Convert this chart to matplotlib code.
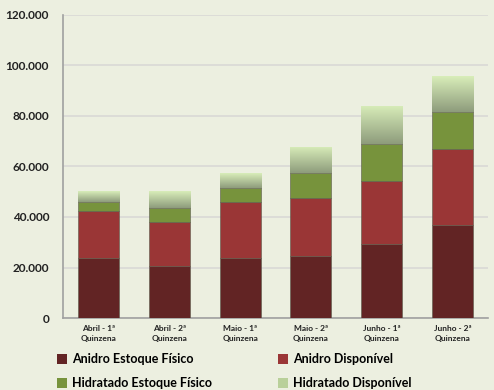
import numpy as np
import matplotlib.pyplot as plt
from matplotlib.ticker import FuncFormatter
from matplotlib.patches import Patch
from matplotlib.colors import LinearSegmentedColormap

# values in m³
categories = ["Abril - 1ª\nQuinzena", "Abril - 2ª\nQuinzena", "Maio - 1ª\nQuinzena",
              "Maio - 2ª\nQuinzena", "Junho - 1ª\nQuinzena", "Junho - 2ª\nQuinzena"]
anidro_estoque = [23600, 20700, 23900, 24700, 29400, 36800]
anidro_disp = [18800, 17400, 22200, 23000, 25000, 30100]
hidratado_estoque = [3700, 5600, 5500, 9600, 14400, 14600]
hidratado_disp = [4200, 6600, 5700, 10300, 15300, 14200]
series_names = ["Anidro Estoque Físico", "Anidro Disponível",
                "Hidratado Estoque Físico", "Hidratado Disponível"]

plt.rcParams['font.family'] = ['Lato', 'DejaVu Sans']
bg = "#ECEFE0"
colors = ["#622424", "#9A3636", "#77933C", "#B9D09A"]

fig = plt.figure(figsize=(4.94, 3.9), dpi=100, facecolor=bg)
ax = fig.add_axes([0.1275, 0.1846, 0.8603, 0.777], facecolor=bg)

x = np.arange(len(categories))
w = 0.58
bottom = np.zeros(len(categories))
all_series = [anidro_estoque, anidro_disp, hidratado_estoque, hidratado_disp]
for vals, c in zip(all_series, colors):
    bars = ax.bar(x, vals, w, bottom=bottom, color=c, edgecolor="#5A5A4A",
                  linewidth=0.4, zorder=3)
    bottom += np.array(vals)

# gradient on the light top segment
grad = np.linspace(0, 1, 100).reshape(-1, 1)
cmap = LinearSegmentedColormap.from_list("lg", ["#8E9C7C", "#D8EDB9"])
for b in bars:
    x0, y0 = b.get_x(), b.get_y()
    im = ax.imshow(grad, cmap=cmap, aspect="auto", origin="lower",
                   extent=[x0, x0 + b.get_width(), y0, y0 + b.get_height()], zorder=4)
    im.set_clip_path(b)

ax.set_xlim(-0.5, 5.5)
ax.set_ylim(0, 120000)
ax.set_yticks(np.arange(0, 120001, 20000))
ax.yaxis.set_major_formatter(FuncFormatter(lambda v, p: f"{int(v):,}".replace(",", ".")))
ax.set_xticks(x)
ax.set_xticklabels(categories, fontsize=6, fontweight="bold", color="#222222", linespacing=1.45)
for lab in ax.get_yticklabels():
    lab.set_fontsize(8.5)
    lab.set_fontweight("bold")
    lab.set_color("#222222")
ax.tick_params(axis="both", length=0)
ax.tick_params(axis="x", pad=5)
ax.tick_params(axis="y", pad=10)
ax.grid(axis="y", color="#D9D9D6", linewidth=1.2, zorder=0)
for s in ["top", "right"]:
    ax.spines[s].set_visible(False)
ax.spines["left"].set_color("#A0A0A0")
ax.spines["bottom"].set_color("#A0A0A0")
ax.spines["left"].set_linewidth(1.2)
ax.spines["bottom"].set_linewidth(1.2)

# legend is filled row by row in the reference
handles = [Patch(facecolor=c, edgecolor="none") for c in colors]
order = [0, 2, 1, 3]
fig.legend([handles[i] for i in order], [series_names[i] for i in order],
           ncol=2, loc="lower left", bbox_to_anchor=(0.092, -0.027),
           frameon=False, handlelength=0.8, handleheight=0.8,
           handletextpad=0.4, columnspacing=5.3, labelspacing=0.95,
           prop={"weight": "bold", "size": 9})

fig.savefig("out.png", dpi=100, facecolor=bg)
